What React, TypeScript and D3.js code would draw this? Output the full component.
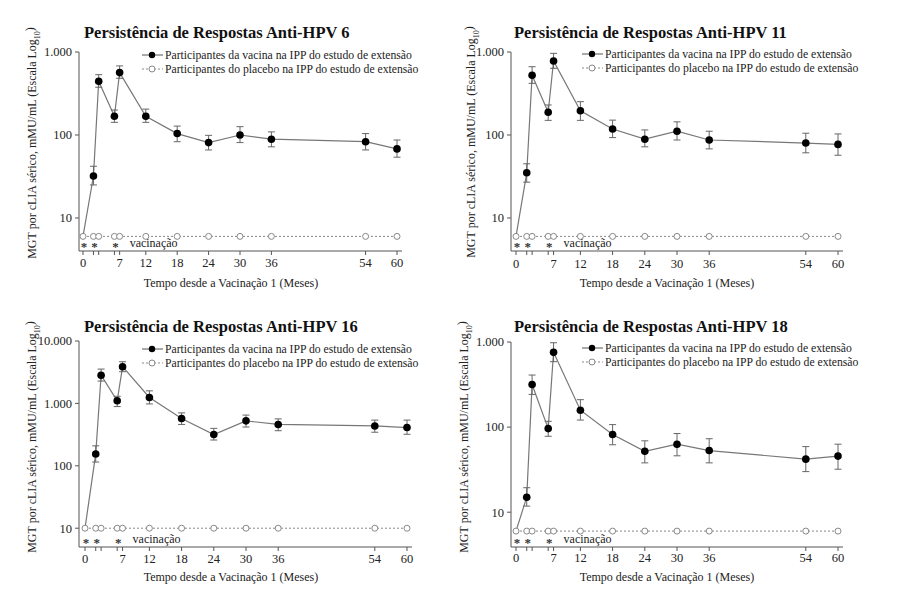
import { useEffect, useRef } from "react";
import * as d3 from "d3";

const MONTHS = [0, 2, 3, 6, 7, 12, 18, 24, 30, 36, 54, 60];
const X_TICKS = [0, 2, 3, 6, 7, 12, 18, 24, 30, 36, 54, 60];
const X_LABELS = [0, 7, 12, 18, 24, 30, 36, 54, 60];
const VAX_MONTHS = [0, 2, 6];

const HPV6_GMT = [6, 32, 445, 168, 565, 168, 104, 81, 100, 89, 83, 68];
const HPV6_LO = [null, 25, 376, 142, 482, 142, 83, 66, 81, 72, 66, 54];
const HPV6_HI = [null, 42, 533, 200, 680, 205, 128, 99, 126, 109, 104, 87];
const HPV6_PLACEBO = [6, 6, 6, 6, 6, 6, 6, 6, 6, 6, 6, 6];

const HPV11_GMT = [6, 35, 525, 188, 780, 196, 118, 89, 111, 87, 80, 77];
const HPV11_LO = [null, 27, 419, 150, 636, 150, 93, 72, 87, 68, 61, 57];
const HPV11_HI = [null, 45, 665, 230, 963, 252, 151, 115, 144, 111, 105, 103];
const HPV11_PLACEBO = [6, 6, 6, 6, 6, 6, 6, 6, 6, 6, 6, 6];

const HPV16_GMT = [10, 155, 2830, 1100, 3870, 1245, 574, 317, 525, 460, 435, 410];
const HPV16_LO = [null, 115, 2280, 890, 3220, 980, 460, 259, 418, 365, 345, 320];
const HPV16_HI = [null, 209, 3550, 1300, 4650, 1590, 705, 398, 650, 565, 540, 540];
const HPV16_PLACEBO = [10, 10, 10, 10, 10, 10, 10, 10, 10, 10, 10, 10];

const HPV18_GMT = [6, 15, 317, 96, 756, 158, 82, 52, 63, 53, 42, 45.6];
const HPV18_LO = [null, 11.8, 242, 78, 587, 121, 62, 38, 46, 38, 30, 32];
const HPV18_HI = [null, 19.4, 409, 117, 980, 210, 107, 69, 84, 73, 59, 63];
const HPV18_PLACEBO = [6, 6, 6, 6, 6, 6, 6, 6, 6, 6, 6, 6];

const Y_TICKS_1000 = [10, 100, 1000];
const Y_TICKS_10000 = [10, 100, 1000, 10000];

const LEGEND_VACCINE = "Participantes da vacina na IPP do estudo de extensão";
const LEGEND_PLACEBO = "Participantes do placebo na IPP do estudo de extensão";
const X_TITLE = "Tempo desde a Vacinação 1 (Meses)";

const FONT = "'Liberation Serif', 'Times New Roman', serif";

// layout of each of the four panels (pixels)
const PANELS = [
  {
    title: "Persistência de Respostas Anti-HPV 6",
    gmt: HPV6_GMT, lo: HPV6_LO, hi: HPV6_HI, placebo: HPV6_PLACEBO,
    yTicks: Y_TICKS_1000, yDomain: [4, 1000],
    axisX: 79, x0: 83, x60: 397, xEnd: 402, yTop: 52, yBot: 251,
    titleX: 84, titleY: 32, legX: 142, legY: 55,
    yLabX: 32, yLabY: 143, xLabX: 231, xLabY: 283, tickY: 263,
  },
  {
    title: "Persistência de Respostas Anti-HPV 11",
    gmt: HPV11_GMT, lo: HPV11_LO, hi: HPV11_HI, placebo: HPV11_PLACEBO,
    yTicks: Y_TICKS_1000, yDomain: [4, 1000],
    axisX: 511, x0: 516, x60: 838, xEnd: 843, yTop: 52, yBot: 251,
    titleX: 514, titleY: 32, legX: 582, legY: 54,
    yLabX: 471, yLabY: 142, xLabX: 667, xLabY: 283, tickY: 264,
  },
  {
    title: "Persistência de Respostas Anti-HPV 16",
    gmt: HPV16_GMT, lo: HPV16_LO, hi: HPV16_HI, placebo: HPV16_PLACEBO,
    yTicks: Y_TICKS_10000, yDomain: [5, 10000],
    axisX: 79, x0: 85, x60: 407, xEnd: 412, yTop: 341, yBot: 547,
    titleX: 84, titleY: 326, legX: 142, legY: 349,
    yLabX: 32, yLabY: 437, xLabX: 231, xLabY: 577, tickY: 559,
  },
  {
    title: "Persistência de Respostas Anti-HPV 18",
    gmt: HPV18_GMT, lo: HPV18_LO, hi: HPV18_HI, placebo: HPV18_PLACEBO,
    yTicks: Y_TICKS_1000, yDomain: [3.9, 1000],
    axisX: 511, x0: 516, x60: 838, xEnd: 843, yTop: 342, yBot: 547,
    titleX: 514, titleY: 326, legX: 582, legY: 348,
    yLabX: 464, yLabY: 437, xLabX: 667, xLabY: 577, tickY: 558,
  },
];

const fmt = (v: number) => d3.format(",")(v).replace(/,/g, ".");

export default function App() {
  const svgRef = useRef<SVGSVGElement>(null);

  useEffect(() => {
    if (!svgRef.current) return;
    const svg = d3.select(svgRef.current);
    svg.selectAll("*").remove();

    PANELS.forEach((p) => {
      const g = svg.append("g").attr("font-family", FONT);
      const x = d3.scaleLinear().domain([0, 60]).range([p.x0, p.x60]);
      const y = d3.scaleLog().domain(p.yDomain).range([p.yBot, p.yTop]);

      // --- Axes ---
      g.append("line")
        .attr("x1", p.axisX).attr("x2", p.axisX)
        .attr("y1", y(p.yDomain[1])).attr("y2", p.yBot)
        .attr("stroke", "#555").attr("stroke-width", 1);
      g.append("line")
        .attr("x1", p.axisX).attr("x2", p.xEnd)
        .attr("y1", p.yBot).attr("y2", p.yBot)
        .attr("stroke", "#555").attr("stroke-width", 1);

      g.selectAll("line.ytick").data(p.yTicks).join("line")
        .attr("class", "ytick")
        .attr("x1", p.axisX - 4).attr("x2", p.axisX)
        .attr("y1", (d) => y(d)).attr("y2", (d) => y(d))
        .attr("stroke", "#555");
      g.selectAll("text.ylab").data(p.yTicks).join("text")
        .attr("class", "ylab")
        .attr("x", p.axisX - 7).attr("y", (d) => y(d))
        .attr("dy", "0.35em").attr("text-anchor", "end")
        .attr("font-size", 12.5).attr("fill", "#222")
        .text((d) => fmt(d));

      g.selectAll("line.xtick").data(X_TICKS).join("line")
        .attr("class", "xtick")
        .attr("x1", (d) => x(d)).attr("x2", (d) => x(d))
        .attr("y1", p.yBot).attr("y2", p.yBot + 4)
        .attr("stroke", "#555");
      g.selectAll("text.xlab").data(X_LABELS).join("text")
        .attr("class", "xlab")
        .attr("x", (d) => x(d)).attr("y", p.tickY)
        .attr("dy", "0.35em").attr("text-anchor", "middle")
        .attr("font-size", 12.5).attr("fill", "#222")
        .text((d) => d);

      g.append("text")
        .attr("x", p.xLabX).attr("y", p.xLabY)
        .attr("dy", "0.35em").attr("text-anchor", "middle")
        .attr("font-size", 12).attr("fill", "#222")
        .text(X_TITLE);

      const yl = g.append("text")
        .attr("transform", `translate(${p.yLabX},${p.yLabY}) rotate(-90)`)
        .attr("dy", "0.35em").attr("text-anchor", "middle")
        .attr("font-size", 12).attr("fill", "#222");
      yl.append("tspan").text("MGT por cLIA sérico, mMU/mL (Escala Log");
      yl.append("tspan").attr("font-size", 8).attr("dy", "0.45em").text("10");
      yl.append("tspan").attr("dy", "-0.45em").text(")");

      g.append("text")
        .attr("x", p.titleX).attr("y", p.titleY)
        .attr("dy", "0.35em")
        .attr("font-size", 16.5).attr("font-weight", "bold").attr("fill", "#111")
        .text(p.title);

      // --- Placebo ---
      const line = d3.line<number>()
        .x((_, i) => x(MONTHS[i]))
        .y((d) => y(d));
      g.append("path")
        .attr("d", line(p.placebo))
        .attr("fill", "none").attr("stroke", "#888")
        .attr("stroke-width", 1).attr("stroke-dasharray", "2,2");

      // --- Vaccine ---
      g.append("path")
        .attr("d", line(p.gmt))
        .attr("fill", "none").attr("stroke", "#777").attr("stroke-width", 1.2);

      const idx = d3.range(MONTHS.length).filter((i) => p.lo[i] != null);
      const bars = g.selectAll("g.err").data(idx).join("g").attr("class", "err")
        .attr("stroke", "#666").attr("stroke-width", 1);
      bars.append("line")
        .attr("x1", (i) => x(MONTHS[i])).attr("x2", (i) => x(MONTHS[i]))
        .attr("y1", (i) => y(p.lo[i] as number)).attr("y2", (i) => y(p.hi[i] as number));
      bars.append("line")
        .attr("x1", (i) => x(MONTHS[i]) - 3.5).attr("x2", (i) => x(MONTHS[i]) + 3.5)
        .attr("y1", (i) => y(p.lo[i] as number)).attr("y2", (i) => y(p.lo[i] as number));
      bars.append("line")
        .attr("x1", (i) => x(MONTHS[i]) - 3.5).attr("x2", (i) => x(MONTHS[i]) + 3.5)
        .attr("y1", (i) => y(p.hi[i] as number)).attr("y2", (i) => y(p.hi[i] as number));

      g.selectAll("circle.plc").data(p.placebo).join("circle")
        .attr("class", "plc")
        .attr("cx", (_, i) => x(MONTHS[i])).attr("cy", (d) => y(d))
        .attr("r", 3).attr("fill", "#fff").attr("stroke", "#888").attr("stroke-width", 1);

      g.selectAll("circle.vac").data(idx).join("circle")
        .attr("class", "vac")
        .attr("cx", (i) => x(MONTHS[i])).attr("cy", (i) => y(p.gmt[i]))
        .attr("r", 3.8).attr("fill", "#000");

      // --- Vaccination markers ---
      const starY = p.yBot - 5;
      g.selectAll("text.star").data(VAX_MONTHS).join("text")
        .attr("class", "star")
        .attr("x", (d) => x(d) + 1).attr("y", starY + 5)
        .attr("text-anchor", "middle").attr("font-size", 13).attr("font-weight", "bold")
        .attr("fill", "#333")
        .text("*");
      g.append("text")
        .attr("x", x(7) + 10).attr("y", starY)
        .attr("dy", "0.1em")
        .attr("font-size", 12).attr("fill", "#222")
        .text("vacinação");

      // --- Legend ---
      const lx = p.legX;
      g.append("line")
        .attr("x1", lx).attr("x2", lx + 21).attr("y1", p.legY).attr("y2", p.legY)
        .attr("stroke", "#555");
      g.append("circle").attr("cx", lx + 10).attr("cy", p.legY).attr("r", 3.2).attr("fill", "#000");
      g.append("line")
        .attr("x1", lx).attr("x2", lx + 21).attr("y1", p.legY + 14).attr("y2", p.legY + 14)
        .attr("stroke", "#888").attr("stroke-dasharray", "2,2");
      g.append("circle").attr("cx", lx + 10).attr("cy", p.legY + 14).attr("r", 3)
        .attr("fill", "#fff").attr("stroke", "#888");
      g.append("text")
        .attr("x", lx + 23).attr("y", p.legY).attr("dy", "0.35em")
        .attr("font-size", 11.7).attr("fill", "#222").text(LEGEND_VACCINE);
      g.append("text")
        .attr("x", lx + 23).attr("y", p.legY + 14).attr("dy", "0.35em")
        .attr("font-size", 11.7).attr("fill", "#222").text(LEGEND_PLACEBO);
    });
  }, []);

  return (
    <svg
      ref={svgRef}
      width={924}
      height={597}
      style={{ position: "absolute", left: 0, top: 0, background: "#fff" }}
    />
  );
}
